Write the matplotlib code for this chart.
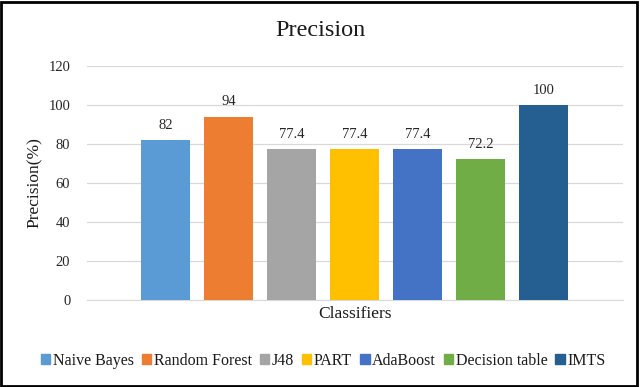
import numpy as np
import matplotlib
matplotlib.use("Agg")
import matplotlib.pyplot as plt
import matplotlib.patches as mpatches

plt.rcParams["font.family"] = ["Liberation Serif", "DejaVu Serif"]

# ── Data ──────────────────────────────────────────────────────
classifiers = ["Naive Bayes", "Random Forest", "J48", "PART",
               "AdaBoost", "Decision table", "IMTS"]
precision = [82, 94, 77.4, 77.4, 77.4, 72.2, 100]
value_labels = ["82", "94", "77.4", "77.4", "77.4", "72.2", "100"]

colors = ["#5B9BD5", "#ED7D31", "#A5A5A5", "#FFC000",
          "#4472C4", "#70AD47", "#255E91"]

# ── Chart ─────────────────────────────────────────────────────
fig = plt.figure(figsize=(6.4, 3.87), dpi=100)
ax = fig.add_axes([0.136, 0.2248, 0.837, 0.6047])

x = np.arange(len(classifiers))
bars = ax.bar(x, precision, 0.78, color=colors, zorder=3)

for bar, lab in zip(bars, value_labels):
    ax.annotate(lab, (bar.get_x() + bar.get_width() / 2, bar.get_height()),
                xytext=(0, 6), textcoords="offset points",
                ha="center", va="bottom", fontsize=10.5, color="#262626")

ax.set_xlim(-1.246, 7.262)
ax.set_ylim(0, 120)
ax.set_yticks(np.arange(0, 121, 20))
ax.set_xticks([])
ax.tick_params(axis="y", length=0, pad=12, labelsize=10.5, labelcolor="#262626")
ax.yaxis.grid(True, color="#D9D9D9", linewidth=0.9, zorder=0)
for s in ["top", "right", "left"]:
    ax.spines[s].set_visible(False)
ax.spines["bottom"].set_color("#D9D9D9")

ax.set_ylabel("Precision(%)", fontsize=12.5, labelpad=4, color="#1a1a1a")
ax.set_xlabel("Classifiers", fontsize=12.5, labelpad=4, color="#1a1a1a")
fig.text(0.5, 0.92, "Precision", ha="center", va="center", fontsize=17.5,
         color="#1a1a1a")

handles = [mpatches.Patch(color=c, label=n) for c, n in zip(colors, classifiers)]
fig.legend(handles=handles, loc="center", bbox_to_anchor=(0.505, 0.068), ncol=7,
           frameon=False, fontsize=11.5, handlelength=0.6, handleheight=0.6,
           handletextpad=0.15, columnspacing=0.5, borderaxespad=0,
           labelcolor="#1a1a1a")

# outer frame
fig.patches.append(mpatches.Rectangle((0.002, 0.003), 0.994, 0.992,
                                      transform=fig.transFigure, fill=False,
                                      edgecolor="black", linewidth=2))

plt.savefig("out.png", dpi=100)
